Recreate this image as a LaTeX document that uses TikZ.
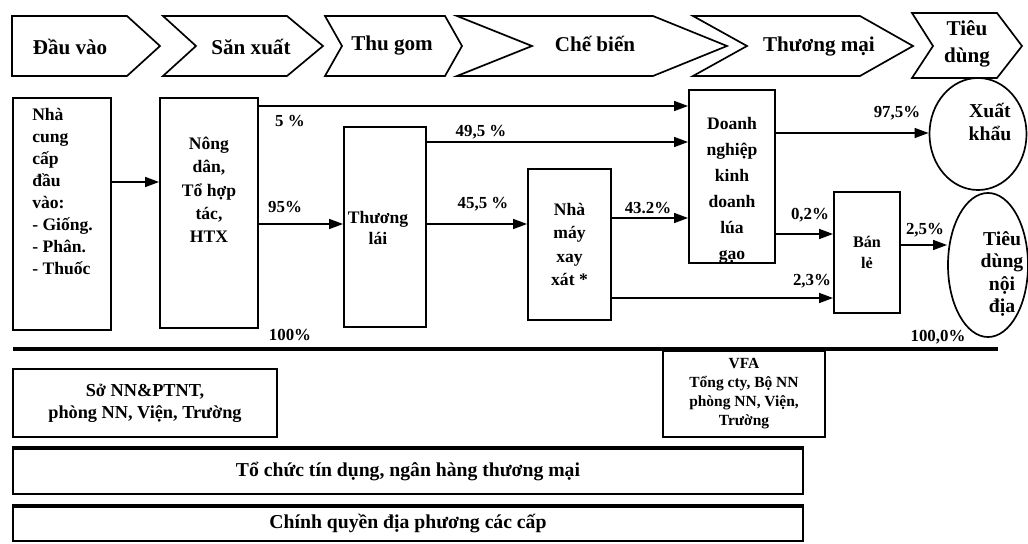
\documentclass[tikz,border=0pt]{standalone}
\usepackage{fontspec}
\setmainfont{Liberation Serif}
\usetikzlibrary{arrows.meta,positioning,shapes.geometric}

\begin{document}
\begin{tikzpicture}[x=0.025cm, y=-0.025cm,
  box/.style={draw, line width=1.2pt, inner sep=0pt, align=center,
    font=\bfseries\fontsize{12.5}{15.6}\selectfont},
  txt/.style={inner sep=0pt, align=center, font=\bfseries\fontsize{12.5}{15.6}\selectfont},
  oval/.style={draw, ellipse, line width=1.2pt, inner sep=0pt},
  pct/.style={inner sep=0pt, font=\bfseries\fontsize{12}{14}\selectfont},
  stage/.style={inner sep=0pt, align=center, font=\bfseries\fontsize{15}{19}\selectfont},
  chev/.style={line width=1.2pt, line join=miter},
  flow/.style={line width=1.4pt, -{Triangle[length=10pt,width=7pt]}}]

  \useasboundingbox (0,0) rectangle (1028,544);

  % Stages of the chain
  \draw[chev] (12,16) -- (127,16) -- (160,46) -- (127,76) -- (12,76) -- cycle;
  \draw[chev] (163,16) -- (287,16) -- (323,46) -- (287,76) -- (163,76) -- (196,46) -- cycle;
  \draw[chev] (325,16) -- (445,16) -- (462,46) -- (445,76) -- (325,76) -- (342,46) -- cycle;
  \draw[chev] (457,16) -- (653,16) -- (727,46) -- (653,76) -- (457,76) -- (532,46) -- cycle;
  \draw[chev] (693,16) -- (860,16) -- (913,46) -- (860,76) -- (693,76) -- (747,46) -- cycle;
  \draw[chev] (912,13) -- (997,13) -- (1022,46) -- (997,78) -- (912,78) -- (933,46) -- cycle;
  \node[stage] (st1) at (70,47) {Đầu vào};
  \node[stage] (st2) at (251,47) {Săn xuất};
  \node[stage] (st3) at (392,46) {Thu gom};
  \node[stage] (st4) at (595,44) {Chế biến};
  \node[stage] (st5) at (819,47) {Thương mại};
  \node[stage] (st6) at (967,44) {Tiêu\\dùng};

  % Actors
  \node[box, minimum width=2.45cm, minimum height=5.8cm] (sup) at (62,214) {};
  \node[txt, align=left, anchor=north west] (supT) at (32,108)
    {Nhà\\cung\\cấp\\đầu\\vào:\\- Giống.\\- Phân.\\- Thuốc};
  \node[box, minimum width=2.45cm, minimum height=5.75cm] (nong) at (209,213) {};
  \node[txt, font=\bfseries\fontsize{12.5}{16.5}\selectfont] (nongT) at (209,190)
    {Nông\\dân,\\Tổ hợp\\tác,\\HTX};
  \node[box, minimum width=2.05cm, minimum height=5cm] (lai) at (385,227) {};
  \node[txt] (laiT) at (378,228) {Thương\\lái};
  \node[box, minimum width=2.075cm, minimum height=3.775cm,
    font=\bfseries\fontsize{12.5}{16.5}\selectfont] (may) at (569.5,244.5)
    {Nhà\\máy\\xay\\xát *};
  \node[box, minimum width=2.15cm, minimum height=4.325cm] (dn) at (732,176.5) {};
  \node[txt, font=\bfseries\fontsize{12.5}{18.5}\selectfont] (dnT) at (732,190)
    {Doanh\\nghiệp\\kinh\\doanh\\lúa\\gạo};
  \node[box, minimum width=1.65cm, minimum height=3.025cm,
    font=\bfseries\fontsize{11.5}{15.5}\selectfont] (ban) at (867,252.5) {Bán\\lẻ};
  \node[oval, minimum width=2.425cm, minimum height=2.8cm] (xk) at (978,134) {};
  \node[txt, font=\bfseries\fontsize{14}{16.5}\selectfont] (xkT) at (990,122) {Xuất\\khẩu};
  \node[oval, minimum width=2cm, minimum height=3.6cm] (td) at (988,265) {};
  \node[txt, font=\bfseries\fontsize{14}{16}\selectfont] (tdT) at (1002,274)
    {Tiêu\\dùng\\nội\\địa};

  % Flows
  \draw[flow] (sup.east |- 0,182) -- (nong.west |- 0,182);
  \draw[flow] (nong.east |- 0,106) -- (dn.west |- 0,106);
  \draw[flow] (nong.east |- 0,224) -- (lai.west |- 0,224);
  \draw[flow] (lai.east |- 0,142) -- (dn.west |- 0,142);
  \draw[flow] (lai.east |- 0,224) -- (may.west |- 0,224);
  \draw[flow] (may.east |- 0,218) -- (dn.west |- 0,218);
  \draw[flow] (may.east |- 0,298) -- (ban.west |- 0,298);
  \draw[flow] (dn.east |- 0,234) -- (ban.west |- 0,234);
  \draw[flow] (dn.east |- 0,133) -- (xk.west |- 0,133);
  \draw[flow] (ban.east |- 0,245) -- (td.west |- 0,245);

  % Shares
  \node[pct] (p5) at (290,121) {5 \%};
  \node[pct] (p95) at (285,207) {95\%};
  \node[pct] (p100) at (290,335) {100\%};
  \node[pct] (p495) at (481,132) {49,5 \%};
  \node[pct] (p455) at (483,204) {45,5 \%};
  \node[pct] (p432) at (648,208) {43.2\%};
  \node[pct] (p23) at (812,281) {2,3\%};
  \node[pct] (p02) at (810,215) {0,2\%};
  \node[pct] (p975) at (897,113) {97,5\%};
  \node[pct] (p25) at (925,230) {2,5\%};
  \node[pct] (p1000) at (938,337) {100,0\%};

  % Support
  \draw[line width=2.8pt] (13,349) -- (998,349);
  \node[box, minimum width=6.6cm, minimum height=1.7cm,
    font=\bfseries\fontsize{13}{15.6}\selectfont] (so) at (145,403)
    {Sở NN\&PTNT,\\phòng NN, Viện, Trường};
  \node[box, minimum width=4.05cm, minimum height=2.15cm,
    font=\bfseries\fontsize{11}{13.5}\selectfont] (vfa) at (744,394)
    {VFA\\Tổng cty, Bộ NN\\phòng NN, Viện,\\Trường};
  \node[box, minimum width=19.75cm, minimum height=1.125cm,
    font=\bfseries\fontsize{14}{16}\selectfont] (tc) at (408,471.5)
    {Tổ chức tín dụng, ngân hàng thương mại};
  \draw[line width=2.4pt] (tc.north west) -- (tc.north east);
  \node[box, minimum width=19.75cm, minimum height=0.85cm,
    font=\bfseries\fontsize{14}{16}\selectfont] (cq) at (408,524)
    {Chính quyền địa phương các cấp};
  \draw[line width=2.4pt] (cq.north west) -- (cq.north east);
\end{tikzpicture}
\end{document}
